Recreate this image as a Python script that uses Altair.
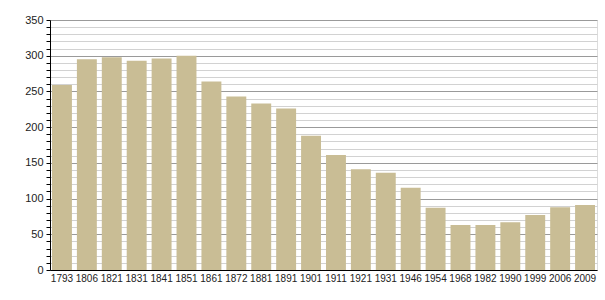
import altair as alt
import pandas as pd

years = ["1793", "1806", "1821", "1831", "1841", "1851", "1861", "1872", "1881", "1891",
         "1901", "1911", "1921", "1931", "1946", "1954", "1968", "1982", "1990", "1999",
         "2006", "2009"]
population = [259, 295, 298, 293, 296, 300, 264, 243, 233, 226,
              188, 161, 141, 136, 115, 87, 63, 63, 67, 77,
              88, 91]

df = pd.DataFrame({"year": years, "pop": population})

y_ticks = list(range(0, 351, 10))

chart = alt.Chart(df).mark_bar(color="#c9bd95").encode(
    x=alt.X("year:N", sort=None, title=None,
            scale=alt.Scale(paddingInner=0.2, paddingOuter=0.08),
            axis=alt.Axis(labelAngle=0, ticks=False, domainColor="#000000", domainWidth=1,
                          labelFont="Liberation Sans", labelFontSize=10, labelColor="#222222",
                          labelPadding=3, labelOverlap=False)),
    y=alt.Y("pop:Q", title=None,
            scale=alt.Scale(domain=[0, 350], nice=False),
            axis=alt.Axis(values=y_ticks,
                          labelExpr="datum.value % 50 == 0 ? datum.label : ''",
                          grid=True,
                          gridColor={"condition": {"test": "datum.value % 50 == 0", "value": "#9a9a9a"}, "value": "#d2d2d2"},
                          gridWidth=1,
                          tickColor="#000000", tickSize=4,
                          domainColor="#000000",
                          labelFont="Liberation Sans", labelFontSize=11, labelColor="#222222",
                          labelPadding=3)),
).properties(
    width=547, height=250,
    autosize=alt.AutoSizeParams(type="none"),
    padding={"left": 50, "top": 20, "right": 8, "bottom": 30},
).configure_view(stroke=None).configure(background="#ffffff")

chart.save("out.html", embed_options={"renderer": "svg", "actions": False})
